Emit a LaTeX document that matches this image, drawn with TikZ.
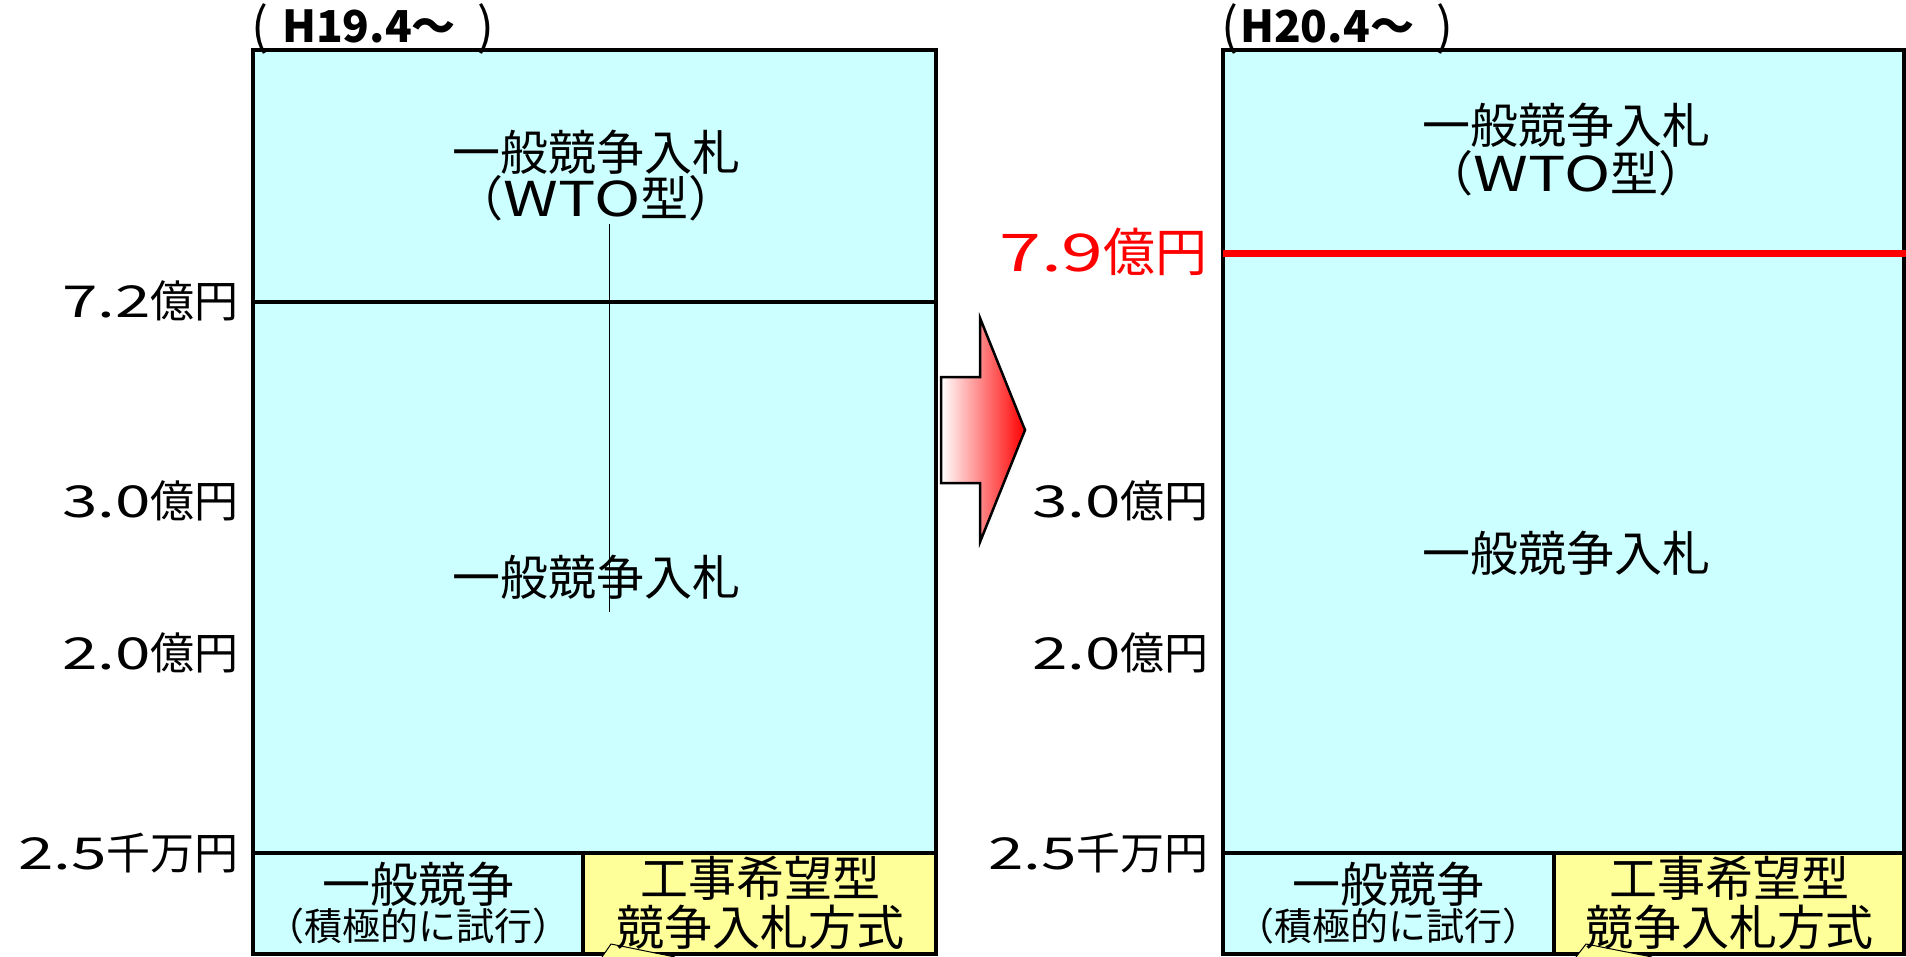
\documentclass[tikz,border=0pt]{standalone}
\usepackage{fontspec}
\setmainfont{Noto Sans CJK JP}
\usetikzlibrary{shadings}
\definecolor{boxcyan}{HTML}{CCFFFF}
\definecolor{boxyellow}{HTML}{FFFF99}
\newcommand{\widenum}[1]{\scalebox{1.45}[1]{#1}}
\newcommand{\widelat}[1]{\scalebox{1.3}[1]{#1}}
\newcommand{\hparen}[1]{{\fontsize{50}{50}\selectfont\raisebox{-2pt}{#1}}}
\tikzset{
  px/.style={x=1pt,y=-1pt},
  frame/.style={draw=black,line width=4pt},
  lbl/.style={font=\fontsize{44}{46}\selectfont,anchor=east,inner sep=0pt},
  big/.style={font=\fontsize{48}{50}\selectfont,inner sep=0pt},
  small/.style={font=\fontsize{38}{40}\selectfont,inner sep=0pt},
  hdr/.style={font=\fontsize{44}{46}\selectfont,anchor=west,inner sep=0pt},
}
\begin{document}
\begin{tikzpicture}[px]
\useasboundingbox (0,0) rectangle (1906,956);
% ---------- left panel ----------
\fill[boxcyan] (253,50) rectangle (936,954);
\fill[boxyellow] (583,853) rectangle (936,954);
\draw[line width=3.5pt] (253,302) -- (936,302);
\draw[line width=4pt] (253,853) -- (936,853);
\draw[line width=4pt] (583,853) -- (583,954);
\draw[frame] (253,50) rectangle (936,954);
\draw[line width=0.8pt] (609,224) -- (609,612);
\filldraw[fill=boxyellow,draw=black,line width=1pt] (602,957) -- (611,944) -- (675,957);
\node[hdr] (h1) at (251,29) {\hparen{(}\hspace{14pt}{\bfseries H19.4～}\hspace{22pt}\hparen{)}};
\node[big] (l1a) at (596,152) {一般競争入札};
\node[big] (l1b) at (596,198) {（\widelat{WTO}型）};
\node[big] (l1c) at (596,577) {一般競争入札};
\node[big] (l1d) at (418,884) {一般競争};
\node[small] (l1e) at (418,926) {（積極的に試行）};
\node[big] (l1f) at (760,878) {工事希望型};
\node[big] (l1g) at (760,927) {競争入札方式};
\node[lbl] (a72) at (239,301) {\widenum{7.2}億円};
\node[lbl] (a30) at (239,501) {\widenum{3.0}億円};
\node[lbl] (a20) at (239,653) {\widenum{2.0}億円};
\node[lbl] (a25) at (239,853) {\widenum{2.5}千万円};
% ---------- arrow ----------
\shade[left color=white,right color=red,draw=black,line width=2.5pt,line join=miter]
  (941,377) -- (980,377) -- (980,318) -- (1025,430) -- (980,542) -- (980,483) -- (941,483) -- cycle;
% ---------- right panel ----------
\fill[boxcyan] (1223,50) rectangle (1904,954);
\fill[boxyellow] (1554,853) rectangle (1904,954);
\draw[line width=4pt] (1223,853) -- (1904,853);
\draw[line width=4pt] (1554,853) -- (1554,954);
\draw[frame] (1223,50) rectangle (1904,954);
\draw[red,line width=7pt] (1223,253) -- (1906,253);
\filldraw[fill=boxyellow,draw=black,line width=1pt] (1576,957) -- (1586,944) -- (1652,957);
\node[hdr] (h2) at (1221,29) {\hparen{(}\hspace{2pt}{\bfseries H20.4～}\hspace{22pt}\hparen{)}};
\node[big] (r1a) at (1566,125) {一般競争入札};
\node[big] (r1b) at (1566,173) {（\widelat{WTO}型）};
\node[big] (r1c) at (1566,553) {一般競争入札};
\node[big] (r1d) at (1388,884) {一般競争};
\node[small] (r1e) at (1388,926) {（積極的に試行）};
\node[big] (r1f) at (1729,878) {工事希望型};
\node[big] (r1g) at (1729,927) {競争入札方式};
\node[lbl,red,font=\fontsize{52}{54}\selectfont] (b79) at (1208,252) {\widenum{7.9}億円};
\node[lbl] (b30) at (1209,501) {\widenum{3.0}億円};
\node[lbl] (b20) at (1209,653) {\widenum{2.0}億円};
\node[lbl] (b25) at (1209,853) {\widenum{2.5}千万円};
\end{tikzpicture}
\end{document}
